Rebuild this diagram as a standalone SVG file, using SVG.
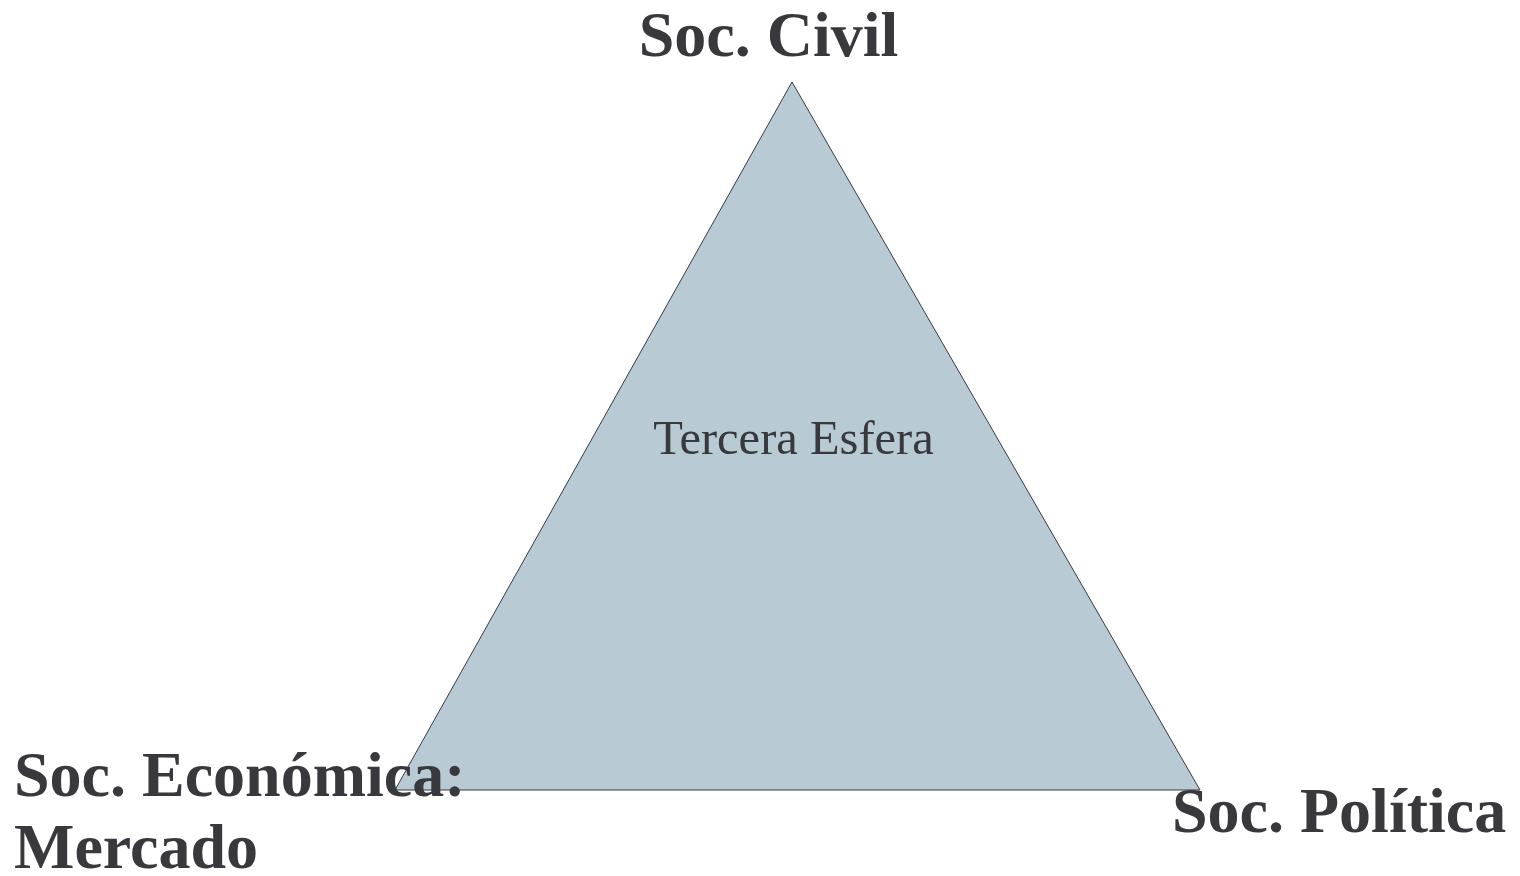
<svg xmlns="http://www.w3.org/2000/svg" width="1520" height="876" viewBox="0 0 1520 876">
<style>
.lbl{font-family:"Liberation Serif","Times New Roman",serif;font-weight:bold;fill:#38383d;font-size:64px}
.inner{font-family:"Liberation Serif","Times New Roman",serif;fill:#38383d}
</style>
<rect width="1520" height="876" fill="#ffffff"/>
<g id="triangle">
<polygon points="792,82 395,790 1200,790" fill="#b8cad4" stroke="#3a3a40" stroke-width="1"/>
<text class="inner" x="793.5" y="454" font-size="48.5" text-anchor="middle">Tercera Esfera</text>
</g>
<g id="connectors"></g>
<g id="civil">
<text class="lbl" x="768.5" y="56" text-anchor="middle">Soc. Civil</text>
</g>
<g id="economica">
<text class="lbl" x="14" y="796">Soc. Económica:</text>
<text class="lbl" x="14" y="868">Mercado</text>
</g>
<g id="politica">
<text class="lbl" x="1172" y="832">Soc. Política</text>
</g>
</svg>
